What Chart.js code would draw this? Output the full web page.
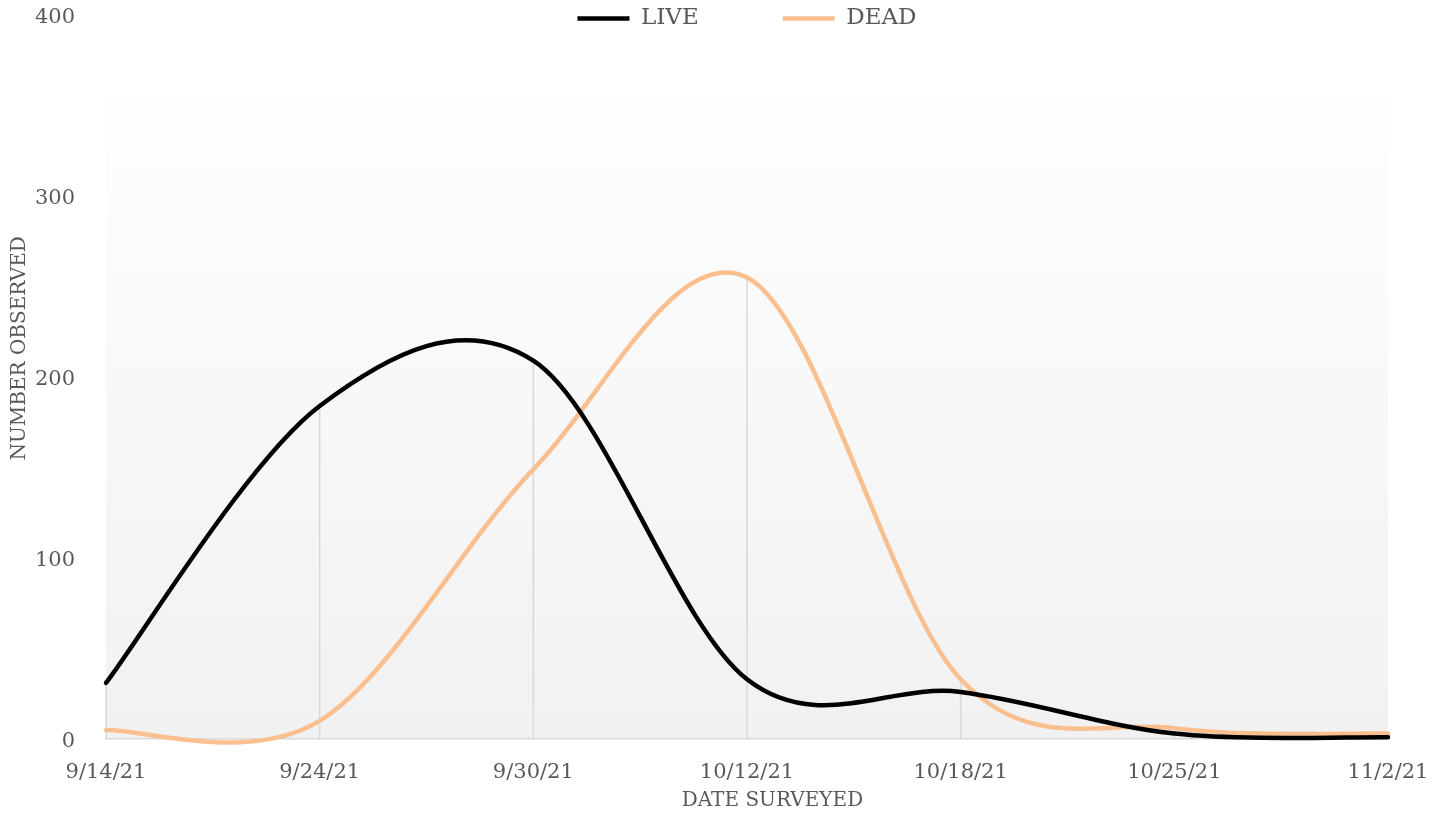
<!DOCTYPE html>
<html>
<head>
<meta charset="utf-8">
<title>Live and dead observed</title>
<script src="https://cdn.jsdelivr.net/npm/chart.js@4.4.0/dist/chart.umd.min.js"></script>
<style>
  html, body { margin: 0; padding: 0; background: #ffffff; }
  #wrap { width: 1445px; height: 814px; }
</style>
</head>
<body>
<div id="wrap"><canvas id="surveyChart" width="1445" height="814"></canvas></div>
<script>
// values
const dates = ['9/14/21', '9/24/21', '9/30/21', '10/12/21', '10/18/21', '10/25/21', '11/2/21'];
const liveCounts = [31, 184, 209, 33, 26, 3, 1];
const deadCounts = [5, 10, 149, 255, 33, 6, 3];
const yTicks = [0, 100, 200, 300, 400];

const textGray = '#595959';
const serif = 'DejaVu Serif';

// plot area fill, white fading into light grey
const plotFill = {
    id: 'plotFill',
    beforeDraw(chart) {
        const { ctx, chartArea: a } = chart;
        const top = a.top + 82;
        const g = ctx.createLinearGradient(0, top, 0, a.bottom);
        g.addColorStop(0, '#fefefe');
        g.addColorStop(1, '#f1f1f1');
        ctx.save();
        ctx.fillStyle = g;
        ctx.fillRect(a.left, top, a.right - a.left, a.bottom - top);
        ctx.restore();
    }
};

// drop lines from the highest value at each date down to the axis
const dropLines = {
    id: 'dropLines',
    beforeDatasetsDraw(chart) {
        const { ctx, scales: { x, y } } = chart;
        ctx.save();
        ctx.strokeStyle = '#d9d9d9';
        ctx.lineWidth = 1.5;
        dates.forEach((d, i) => {
            const px = x.getPixelForValue(i);
            const top = Math.max(liveCounts[i], deadCounts[i]);
            ctx.beginPath();
            ctx.moveTo(px, y.getPixelForValue(top));
            ctx.lineTo(px, y.getPixelForValue(0));
            ctx.stroke();
        });
        ctx.restore();
    }
};

// smoothing like the spreadsheet does it (catmull-rom style control points)
const excelSmooth = {
    id: 'excelSmooth',
    afterDatasetsUpdate(chart) {
        chart.data.datasets.forEach((ds, di) => {
            const meta = chart.getDatasetMeta(di);
            const pts = meta.data;
            const n = pts.length;
            pts.forEach((p, i) => {
                const prev = pts[Math.max(i - 1, 0)];
                const next = pts[Math.min(i + 1, n - 1)];
                const dx = (next.x - prev.x) / 6;
                const dy = (next.y - prev.y) / 6;
                p.cp1x = p.x - dx;
                p.cp1y = p.y - dy;
                p.cp2x = p.x + dx;
                p.cp2y = p.y + dy;
            });
            meta.dataset._pointsUpdated = true;
        });
    }
};

// legend takes no room in the layout, then gets drawn at the very top
const legendNudge = {
    id: 'legendNudge',
    afterLayout(chart) {
        const lg = chart.legend;
        lg.top = 7 - lg.options.labels.padding;
        lg.bottom = 42;
        lg.height = lg.bottom - lg.top;
    }
};

function initializeChart() {
    const ctx = document.getElementById('surveyChart').getContext('2d');
    return new Chart(ctx, {
        type: 'line',
        data: {
            labels: dates,
            datasets: [{
                label: 'LIVE',
                data: liveCounts,
                borderColor: '#000000',
                backgroundColor: '#000000',
                borderWidth: 4.5,
                borderCapStyle: 'round',
                pointRadius: 0,
                tension: 0.4,
                clip: false
            }, {
                label: 'DEAD',
                data: deadCounts,
                borderColor: '#f9bf8e',
                backgroundColor: '#f9bf8e',
                borderWidth: 4.5,
                borderCapStyle: 'round',
                pointRadius: 0,
                tension: 0.4,
                clip: false
            }]
        },
        options: {
            responsive: false,
            animation: false,
            layout: { padding: { top: 15, right: 57, bottom: 0, left: 0 } },
            elements: { line: { capBezierPoints: false } },
            plugins: {
                legend: {
                    position: 'top',
                    align: 'center',
                    fullSize: false,
                    maxHeight: 0.01,
                    labels: {
                        usePointStyle: true,
                        pointStyle: 'line',
                        pointStyleWidth: 52,
                        padding: 84,
                        color: textGray,
                        font: { family: serif, size: 23 }
                    }
                },
                tooltip: { enabled: false }
            },
            scales: {
                x: {
                    grid: { display: false },
                    border: { display: true, color: '#d9d9d9', width: 1.5 },
                    ticks: {
                        color: textGray,
                        padding: 13,
                        maxRotation: 0,
                        autoSkip: false,
                        font: { family: serif, size: 21 }
                    },
                    title: {
                        display: true,
                        text: '        DATE SURVEYED',
                        color: textGray,
                        padding: { top: 0, bottom: 1 },
                        font: { family: serif, size: 20 }
                    },
                    afterFit(scale) { scale.height = 75; }
                },
                y: {
                    min: yTicks[0],
                    max: yTicks[yTicks.length - 1],
                    grid: { display: false },
                    border: { display: false },
                    afterBuildTicks(scale) { scale.ticks = yTicks.map(v => ({ value: v })); },
                    ticks: {
                        color: textGray,
                        padding: 23,
                        labelOffset: 3,
                        font: { family: serif, size: 21 }
                    },
                    title: {
                        display: true,
                        text: '         NUMBER OBSERVED',
                        color: textGray,
                        padding: { top: 8, bottom: 0 },
                        font: { family: serif, size: 20 }
                    },
                    afterFit(scale) {
                        scale.width = 106;
                        scale.paddingTop = 0;
                        scale.paddingBottom = 0;
                    }
                }
            }
        },
        plugins: [plotFill, dropLines, excelSmooth, legendNudge]
    });
}

window.onload = function () {
    initializeChart();
};
</script>
</body>
</html>
